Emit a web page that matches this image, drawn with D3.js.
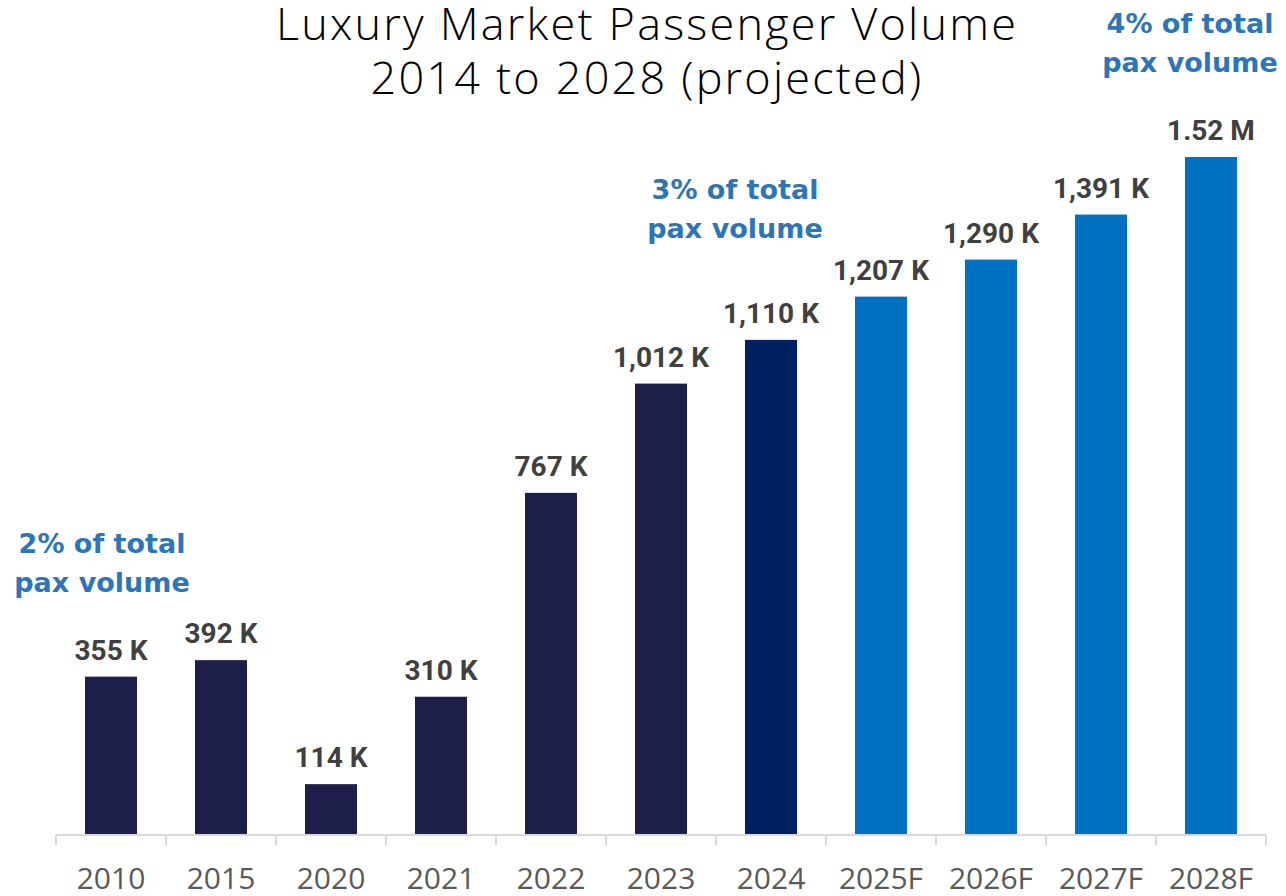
<!DOCTYPE html>
<html>
<head>
<meta charset="utf-8">
<script src="https://cdn.jsdelivr.net/npm/d3@7"></script>
<style>
  html, body { margin: 0; padding: 0; background: #fff; }
  svg { display: block; }
</style>
</head>
<body>
<div id="chart"></div>
<script>
  var categories = ["2010", "2015", "2020", "2021", "2022", "2023", "2024", "2025F", "2026F", "2027F", "2028F"];
  var values = [355, 392, 114, 310, 767, 1012, 1110, 1207, 1290, 1391, 1520];
  var valueLabels = ["355 K", "392 K", "114 K", "310 K", "767 K", "1,012 K", "1,110 K", "1,207 K", "1,290 K", "1,391 K", "1.52 M"];
  var barKind = ["hist", "hist", "hist", "hist", "hist", "hist", "current", "fcst", "fcst", "fcst", "fcst"];
  var titleLines = ["Luxury Market Passenger Volume", "2014 to 2028 (projected)"];
  var notes = [
    { at: "2010", lines: ["2% of total", "pax volume"] },
    { at: "2024", lines: ["3% of total", "pax volume"] },
    { at: "2028F", lines: ["4% of total", "pax volume"] }
  ];

  var colors = { hist: "#1E1E4B", current: "#002060", fcst: "#0070C0" };

  var W = 1286, H = 896;
  var svg = d3.select("#chart").append("svg")
    .attr("width", W)
    .attr("height", H);

  var x = d3.scaleBand().domain(categories).range([56, 1266]).paddingInner(0.527).paddingOuter(0.2635);
  var y = d3.scaleLinear().domain([0, 1520]).range([835, 157]);

  // title
  svg.append("text")
    .attr("x", 647)
    .attr("text-anchor", "middle")
    .style("font-family", "'Open Sans', sans-serif")
    .style("font-weight", "300")
    .style("font-size", "45px")
    .style("letter-spacing", "2.2px")
    .style("fill", "#000")
    .selectAll("tspan")
    .data(titleLines)
    .enter().append("tspan")
    .attr("x", 647)
    .attr("y", function(d, i) { return 40 + i * 54; })
    .text(function(d) { return d; });

  // bars
  svg.append("g").selectAll("rect")
    .data(values)
    .enter().append("rect")
    .attr("x", function(d, i) { return x(categories[i]); })
    .attr("y", function(d) { return y(d); })
    .attr("width", x.bandwidth())
    .attr("height", function(d) { return y(0) - y(d); })
    .style("fill", function(d, i) { return colors[barKind[i]]; });

  // value labels
  svg.append("g").selectAll("text")
    .data(values)
    .enter().append("text")
    .attr("x", function(d, i) { return x(categories[i]) + x.bandwidth() / 2; })
    .attr("y", function(d) { return y(d) - 17; })
    .attr("text-anchor", "middle")
    .style("font-family", "Roboto, sans-serif")
    .style("font-weight", "bold")
    .style("font-size", "28px")
    .style("fill", "#404040")
    .text(function(d, i) { return valueLabels[i]; });

  // x axis
  var axis = d3.axisBottom(x).tickSize(0).tickPadding(0);
  var gx = svg.append("g")
    .attr("transform", "translate(0," + y(0) + ")")
    .call(axis);
  gx.select(".domain").attr("stroke", "#D9D9D9").attr("stroke-width", 2)
    .attr("d", "M56,0H1266");
  gx.selectAll(".tick text")
    .attr("y", 54)
    .attr("dy", 0)
    .style("font-family", "'Open Sans', sans-serif")
    .style("font-size", "30px")
    .style("fill", "#595959");
  var edges = categories.map(function(c) { return x(c) - x.step() * x.paddingInner() / 2; });
  edges.push(1266);
  gx.selectAll(".edge")
    .data(edges)
    .enter().append("line")
    .attr("class", "edge")
    .attr("x1", function(d) { return d; })
    .attr("x2", function(d) { return d; })
    .attr("y1", 0)
    .attr("y2", 10)
    .attr("stroke", "#D9D9D9")
    .attr("stroke-width", 2);

  // annotations
  var noteDx = { "2010": -9, "2024": -36, "2028F": -21 };
  var noteY = { "2010": 553, "2024": 199, "2028F": 33 };
  notes.forEach(function(n) {
    var cx = x(n.at) + x.bandwidth() / 2 + noteDx[n.at];
    svg.append("text")
      .attr("text-anchor", "middle")
      .style("font-family", "'DejaVu Sans', sans-serif")
      .style("font-weight", "bold")
      .style("font-size", "27px")
      .style("fill", "#2E75B6")
      .selectAll("tspan")
      .data(n.lines)
      .enter().append("tspan")
      .attr("x", cx)
      .attr("y", function(d, i) { return noteY[n.at] + i * 39; })
      .text(function(d) { return d; });
  });
</script>
</body>
</html>
